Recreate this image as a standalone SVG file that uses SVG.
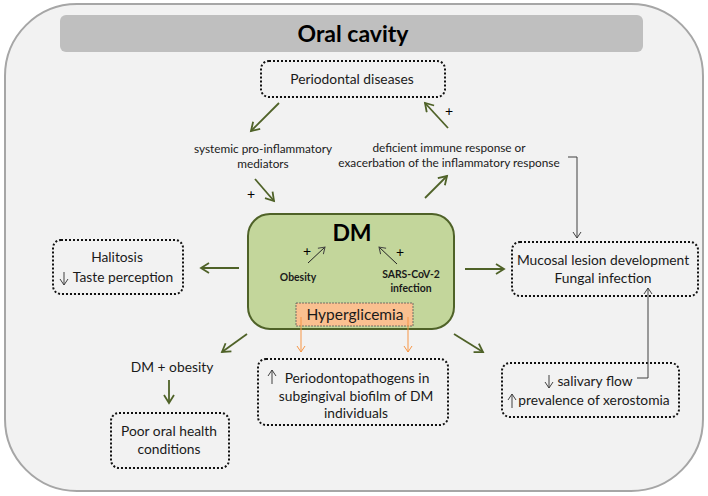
<svg xmlns="http://www.w3.org/2000/svg" width="708" height="496" viewBox="0 0 708 496">
<defs>
<marker id="ag" markerUnits="userSpaceOnUse" markerWidth="12" markerHeight="12" refX="9" refY="6" orient="auto"><path d="M1,1 L9,6 L1,11" fill="none" stroke="#4f6228" stroke-width="1.8"/></marker>
<marker id="ak" markerUnits="userSpaceOnUse" markerWidth="10" markerHeight="10" refX="7" refY="5" orient="auto"><path d="M1,1 L7,5 L1,9" fill="none" stroke="#404040" stroke-width="1"/></marker>
<marker id="ao" markerUnits="userSpaceOnUse" markerWidth="10" markerHeight="10" refX="7" refY="5" orient="auto"><path d="M1,1 L7,5 L1,9" fill="none" stroke="#f79646" stroke-width="1"/></marker>
</defs>
<style>
text{font-family:Lato,"Liberation Sans",sans-serif;fill:#1a1a1a;text-anchor:middle}
.t{font-size:13.8px}
.s{font-size:11.8px}
.b{font-size:10.4px;font-weight:bold}
.dot{fill:none;stroke:#111;stroke-width:2;stroke-dasharray:2 2}
.g{fill:none;stroke:#4f6228;stroke-width:1.8;marker-end:url(#ag)}
.k{fill:none;stroke:#404040;stroke-width:1;marker-end:url(#ak)}
.o{fill:none;stroke:#f79646;stroke-width:1;marker-end:url(#ao)}
</style>
<rect x="5" y="4" width="698" height="487" rx="72" fill="#f2f2f2" stroke="#a6a6a6" stroke-width="2"/>
<g id="title">
<rect x="60" y="15" width="583" height="37" rx="6" fill="#bfbfbf"/>
<text x="353" y="42" style="font-size:23px;font-weight:bold;fill:#000">Oral cavity</text>
</g>
<g id="periodontal">
<rect class="dot" x="261" y="61" width="184" height="36" rx="8"/>
<text class="t" x="352" y="84">Periodontal diseases</text>
</g>
<g id="systemic">
<text class="s" x="263" y="153">systemic pro-inflammatory</text>
<text class="s" x="263" y="168">mediators</text>
</g>
<g id="deficient">
<text class="s" x="449" y="152">deficient immune response or</text>
<text class="s" x="449" y="167">exacerbation of the inflammatory response</text>
</g>
<g id="dm">
<rect x="248" y="214" width="206" height="115" rx="22" fill="#c3d69b" stroke="#4f6228" stroke-width="2"/>
<text x="352" y="241" style="font-size:23px;font-weight:bold;fill:#000">DM</text>
<text x="307" y="256" style="font-size:14px;fill:#000">+</text>
<text x="400" y="257" style="font-size:14px;fill:#000">+</text>
<path d="M308,263 L325,247" fill="none" stroke="#222" stroke-width="1" marker-end="url(#ak)"/>
<path d="M397,264 L379,247" fill="none" stroke="#222" stroke-width="1" marker-end="url(#ak)"/>
<text class="b" x="298" y="281">Obesity</text>
<text class="b" x="411" y="278">SARS-CoV-2</text>
<text class="b" x="411" y="292">infection</text>
</g>
<g id="hyperglicemia">
<rect x="296" y="303" width="117" height="23" fill="#fac090" stroke="#555" stroke-width="0.8" stroke-dasharray="2 1"/>
<text x="355" y="320" style="font-size:15.5px">Hyperglicemia</text>
</g>
<g id="halitosis">
<rect class="dot" x="53" y="240" width="130" height="54" rx="8"/>
<text class="t" x="117" y="262">Halitosis</text>
<text class="t" x="123" y="282">Taste perception</text>
<path d="M64,272 L64,285" class="k"/>
</g>
<g id="mucosal">
<rect class="dot" x="512" y="242" width="186" height="54" rx="8"/>
<text class="t" x="603" y="265">Mucosal lesion development</text>
<text class="t" x="603" y="283">Fungal infection</text>
</g>
<g id="dmobesity">
<text class="t" x="172" y="372">DM + obesity</text>
</g>
<g id="poor">
<rect class="dot" x="111" y="413" width="118" height="55" rx="8"/>
<text class="t" x="169" y="436">Poor oral health</text>
<text class="t" x="169" y="454">conditions</text>
</g>
<g id="periodontopathogens">
<rect class="dot" x="258" y="359" width="190" height="66" rx="8"/>
<text class="t" x="357" y="383">Periodontopathogens in</text>
<text class="t" x="356" y="401">subgingival biofilm of DM</text>
<text class="t" x="356" y="418">individuals</text>
<path d="M272,384 L272,370" class="k"/>
</g>
<g id="salivary">
<rect class="dot" x="502" y="363" width="177" height="54" rx="8"/>
<text class="t" x="595" y="386">salivary flow</text>
<text class="t" x="594" y="405">prevalence of xerostomia</text>
<path d="M549,375 L549,388" class="k"/>
<path d="M512,408 L512,394" class="k"/>
</g>
<g id="connectors">
<path class="g" d="M279,103 L251,131"/>
<path class="g" d="M448,128 L425,103"/>
<text x="449" y="116" style="font-size:14px;fill:#000">+</text>
<path class="g" d="M255,179 L274,201"/>
<text x="251" y="199" style="font-size:14px;fill:#000">+</text>
<path class="g" d="M425,198 L447,176"/>
<path class="k" d="M568,157 L577,157 L577,238"/>
<path class="g" d="M239,268 L201,268"/>
<path class="g" d="M465,269 L504,269"/>
<path class="g" d="M247,334 L222,352"/>
<path class="g" d="M169,380 L169,403"/>
<path class="g" d="M454,334 L483,352"/>
<path class="o" d="M301,317 L301,352"/>
<path class="o" d="M408,317 L408,352"/>
<path class="k" d="M637,378 L648,378 L648,288"/>
</g>
</svg>
